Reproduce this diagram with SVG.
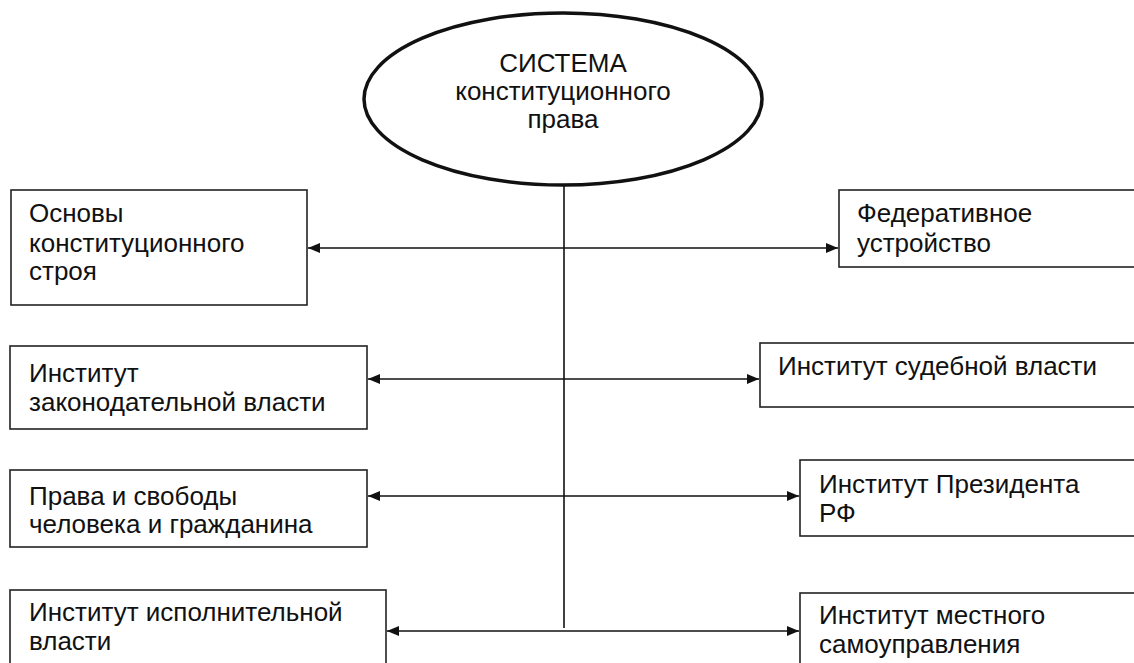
<svg xmlns="http://www.w3.org/2000/svg" width="1134" height="663" viewBox="0 0 1134 663">
<defs>
<style>
.box{fill:#fff;stroke:#222;stroke-width:1.6}
.t{font-family:"Liberation Sans",Arial,sans-serif;font-size:26px;fill:#111}
.c{text-anchor:middle}
.ln{stroke:#111;stroke-width:1.6;fill:none}
</style>
<marker id="ah" viewBox="0 0 12 10" refX="12" refY="5" markerWidth="12" markerHeight="10" markerUnits="userSpaceOnUse" orient="auto-start-reverse">
<path d="M0,0 L12,5 L0,10 Z" fill="#111"/>
</marker>
</defs>
<rect width="1134" height="663" fill="#fff"/>
<g id="connectors">
<line class="ln" x1="564" y1="185" x2="564" y2="628"/>
<line class="ln" x1="308" y1="248" x2="838" y2="248" marker-start="url(#ah)" marker-end="url(#ah)"/>
<line class="ln" x1="368" y1="379" x2="759" y2="379" marker-start="url(#ah)" marker-end="url(#ah)"/>
<line class="ln" x1="368" y1="496" x2="799" y2="496" marker-start="url(#ah)" marker-end="url(#ah)"/>
<line class="ln" x1="387" y1="631" x2="799" y2="631" marker-start="url(#ah)" marker-end="url(#ah)"/>
</g>
<g id="center">
<ellipse cx="563" cy="99" rx="199" ry="86" fill="#fff" stroke="#111" stroke-width="3.5"/>
<text class="t c" x="563" y="72">СИСТЕМА</text>
<text class="t c" x="563" y="100">конституционного</text>
<text class="t c" x="563" y="128">права</text>
</g>
<g id="osnovy">
<rect class="box" x="11" y="190" width="296" height="115"/>
<text class="t" x="29" y="222">Основы</text>
<text class="t" x="29" y="252">конституционного</text>
<text class="t" x="29" y="280">строя</text>
</g>
<g id="federativnoe">
<rect class="box" x="839" y="190" width="300" height="77"/>
<text class="t" x="857" y="222">Федеративное</text>
<text class="t" x="857" y="252">устройство</text>
</g>
<g id="zakonodatelnaya">
<rect class="box" x="10" y="346" width="357" height="83"/>
<text class="t" x="29" y="382">Институт</text>
<text class="t" x="29" y="411">законодательной власти</text>
</g>
<g id="sudebnaya">
<rect class="box" x="760" y="343" width="380" height="64"/>
<text class="t" x="778" y="375">Институт судебной власти</text>
</g>
<g id="prava">
<rect class="box" x="10" y="470" width="357" height="77"/>
<text class="t" x="29" y="505">Права и свободы</text>
<text class="t" x="29" y="533">человека и гражданина</text>
</g>
<g id="president">
<rect class="box" x="800" y="460" width="340" height="76"/>
<text class="t" x="819" y="493">Институт Президента</text>
<text class="t" x="819" y="522">РФ</text>
</g>
<g id="ispolnitelnaya">
<rect class="box" x="10" y="590" width="376" height="80"/>
<text class="t" x="29" y="621">Институт исполнительной</text>
<text class="t" x="29" y="650">власти</text>
</g>
<g id="mestnoe">
<rect class="box" x="800" y="593" width="340" height="80"/>
<text class="t" x="819" y="624">Институт местного</text>
<text class="t" x="819" y="653">самоуправления</text>
</g>
</svg>
